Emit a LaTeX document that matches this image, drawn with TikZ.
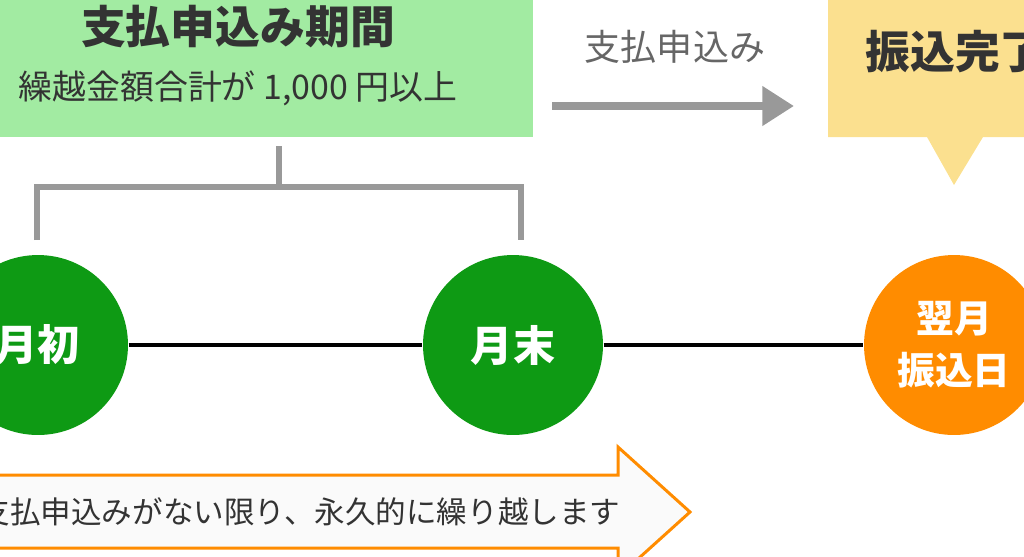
\documentclass[tikz,border=0pt]{standalone}
\usepackage{fontspec}
\setmainfont{Noto Sans CJK JP}
\usepackage{xcolor}
\usepackage{tikz}
\usetikzlibrary{arrows.meta}

\definecolor{kikangreen}{HTML}{A2EBA2}
\definecolor{circgreen}{HTML}{0E9A14}
\definecolor{furiorange}{HTML}{FF8C00}
\definecolor{kanryoyellow}{HTML}{FBE08F}
\definecolor{linegray}{HTML}{999999}
\definecolor{textdark}{HTML}{333333}
\definecolor{textmid}{HTML}{666666}

\begin{document}
\begin{tikzpicture}[x=0.02cm, y=-0.02cm, thick]
\useasboundingbox (0,0) rectangle (1024,556);
\clip (0,0) rectangle (1024,556);
% boxes
\fill[kikangreen] (-10,-10) rectangle (533,137);
\fill[kanryoyellow] (828,-10) -- (1100,-10) -- (1100,137) -- (983,137) -- (954,185) -- (927,137) -- (828,137) -- cycle;
\tikzstyle{every node} = [inner sep=0pt]
\node[text=textdark, font=\fontsize{25.5}{30}\selectfont\bfseries] (title) at (238,27) {支払申込み期間};
\node[text=textdark, font=\fontsize{19.3}{24}\selectfont] (cond) at (238,88) {繰越金額合計が 1,000 円以上};
\node[text=textdark, font=\fontsize{25.5}{30}\selectfont\bfseries] (done) at (955,52) {振込完了};
\node[text=textmid, font=\fontsize{20.5}{24}\selectfont] (apply) at (675,47) {支払申込み};
% circles
\tikzstyle{every node} = [circle, minimum size=3.6cm, inner sep=0pt, text=white, font=\fontsize{24}{29.5}\selectfont\bfseries, align=center]
\node[fill=circgreen] (shoki) at (38,345) {月初};
\node[fill=circgreen] (matsu) at (513,345) {月末};
\node[fill=furiorange, font=\fontsize{21.5}{29.5}\selectfont\bfseries] (yoku) at (954,345) {翌月\\振込日};
\tikzstyle{every node} = []
\draw[line width=2.8pt] (shoki) -- (matsu);
\draw[line width=2.8pt] (matsu) -- (yoku);
% bracket
\coordinate (top) at (279,146);
\coordinate (mid) at (279,187);
\coordinate (bl) at (37,240);
\coordinate (br) at (521,240);
\draw[linegray, line width=3.4pt] (top) -- (mid);
\draw[linegray, line width=3.4pt] (bl) |- (mid) -| (br);
% arrows
\coordinate (a1) at (552,106);
\coordinate (a2) at (794,106);
\draw[linegray, line width=4.5pt, -{Triangle[length=18pt,width=21.5pt]}] (a1) -- (a2);
\draw[furiorange, fill=white!98!black, line width=1.7pt, line join=miter]
  (-20,475) -- (618,475) -- (618,447) -- (690,512) -- (618,577) -- (618,548) -- (-20,548) -- cycle;
\node[text=textdark, font=\fontsize{17.4}{21}\selectfont, inner sep=0pt] (kurikoshi) at (300,512) {支払申込みがない限り、永久的に繰り越します};
\end{tikzpicture}
\end{document}
